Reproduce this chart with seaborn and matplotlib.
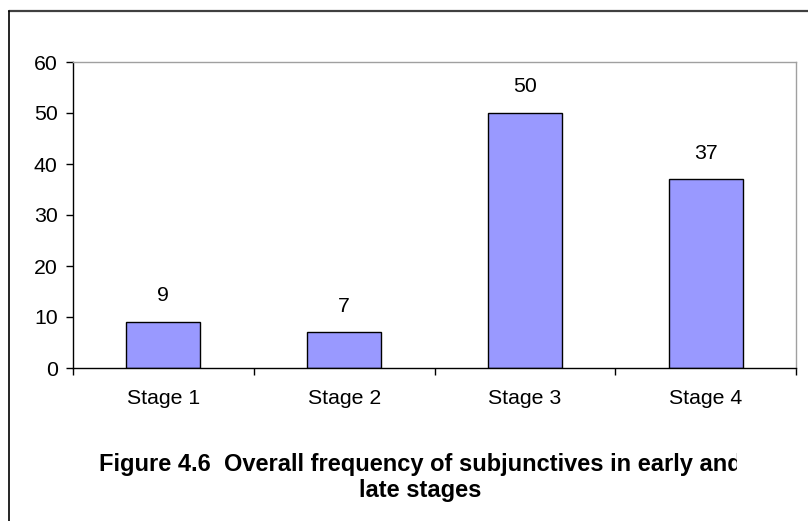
import matplotlib
matplotlib.use("Agg")
import matplotlib.pyplot as plt
import seaborn as sns
import pandas as pd
from matplotlib.lines import Line2D
from matplotlib.transforms import Bbox, TransformedBbox

categories = ["Stage 1", "Stage 2", "Stage 3", "Stage 4"]
values = [9, 7, 50, 37]
yticks = [0, 10, 20, 30, 40, 50, 60]
title = "Figure 4.6  Overall frequency of subjunctives in early and\nlate stages"

sns.set_theme(style="white")
plt.rcParams["font.family"] = ["Liberation Sans", "DejaVu Sans"]

W, H = 808, 521
fig = plt.figure(figsize=(W / 100, H / 100), dpi=100)
ax = fig.add_axes([73 / W, 1 - 368 / H, (796 - 73) / W, (368 - 62) / H])

df = pd.DataFrame({"stage": categories, "value": values})
sns.barplot(data=df, x="stage", y="value", ax=ax, color="#9999FF",
            saturation=1, edgecolor="black", linewidth=1.0, width=0.41)

FS = 15.3
ax.set_ylim(0, 60)
ax.set_xlim(-0.5, len(categories) - 0.5)
ax.set_yticks(yticks)
ax.set_yticklabels([str(t) for t in yticks], fontsize=FS, color="black")
ax.set_xticks(range(len(categories)))
ax.set_xticklabels(categories, fontsize=FS, color="black")
ax.tick_params(axis="x", length=0, pad=15)
ax.tick_params(axis="y", length=5, width=1, color="black", left=True, pad=6, direction="out")
# category boundary ticks on x axis
ax.set_xticks([i - 0.5 for i in range(len(categories) + 1)], minor=True)
ax.tick_params(axis="x", which="minor", length=5, width=1, color="black", bottom=True, direction="out")
ax.set_xlabel("")
ax.set_ylabel("")

for s in ["left", "bottom"]:
    ax.spines[s].set_color("black")
    ax.spines[s].set_linewidth(1.0)
for s in ["top", "right"]:
    ax.spines[s].set_color("#A0A0A0")
    ax.spines[s].set_linewidth(1.0)
ax.grid(False)

for i, v in enumerate(values):
    ax.annotate(str(v), (i, v), xytext=(0, 12), textcoords="offset points",
                ha="center", va="bottom", fontsize=FS, color="black")

t = fig.text(420 / W, 1 - 497 / H, title, ha="center", va="baseline",
             fontsize=17, fontweight="bold", color="black", linespacing=1.15)
t.set_clip_on(True)
t.set_clip_box(TransformedBbox(Bbox([[0, 0], [737 / W, 1]]), fig.transFigure))

# figure border (top and left)
fig.add_artist(Line2D([8.5 / W, 1], [1 - 11 / H, 1 - 11 / H], transform=fig.transFigure,
                      color="#404040", linewidth=1.6))
fig.add_artist(Line2D([8.5 / W, 8.5 / W], [0, 1 - 11 / H], transform=fig.transFigure,
                      color="black", linewidth=1.2))

fig.savefig("out.png", dpi=100, facecolor="white")
